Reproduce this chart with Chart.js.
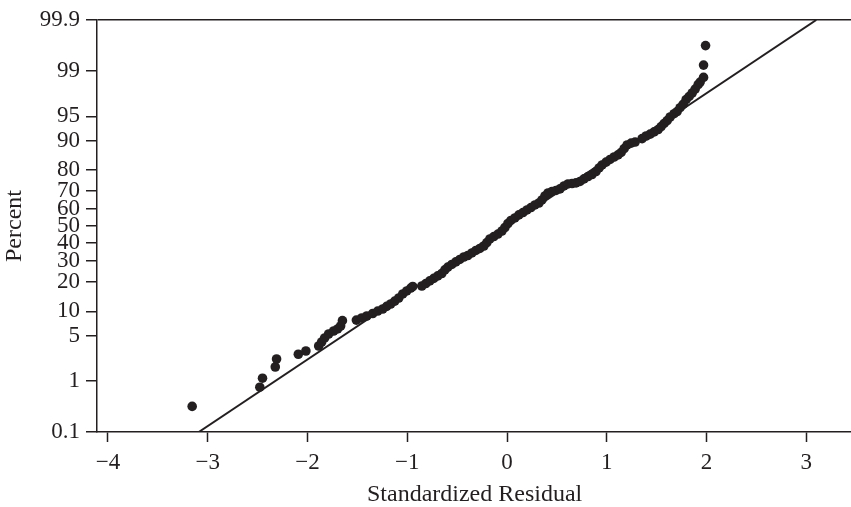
<!DOCTYPE html>
<html>
<head>
<meta charset="utf-8">
<script src="https://cdn.jsdelivr.net/npm/chart.js@4/dist/chart.umd.min.js"></script>
<style>
  html, body { margin: 0; padding: 0; background: #fff; overflow: hidden; }
  canvas { display: block; }
</style>
</head>
<body>
<!-- a few px wider than the page: chart.js keeps ~6px of right padding, this lets the frame run to the edge -->
<canvas id="probPlot" width="857" height="507"></canvas>
<script>
// standardized residuals (sorted) and their plotted percent
var residuals = [
  -3.156, -2.478, -2.451, -2.323, -2.310, -2.092, -2.016, -1.888, -1.858, -1.828,
  -1.788, -1.738, -1.698, -1.668, -1.650, -1.510, -1.457, -1.406, -1.346, -1.296,
  -1.246, -1.206, -1.166, -1.125, -1.085, -1.045, -1.005, -0.965, -0.945, -0.854,
  -0.814, -0.774, -0.734, -0.694, -0.654, -0.623, -0.593, -0.553, -0.513, -0.473,
  -0.433, -0.393, -0.352, -0.312, -0.272, -0.232, -0.202, -0.172, -0.132, -0.091,
  -0.051, -0.021, 0.009, 0.039, 0.079, 0.119, 0.160, 0.200, 0.240, 0.280,
  0.320, 0.350, 0.380, 0.411, 0.451, 0.491, 0.531, 0.571, 0.611, 0.652,
  0.692, 0.732, 0.772, 0.812, 0.852, 0.892, 0.923, 0.953, 0.993, 1.033,
  1.073, 1.113, 1.144, 1.174, 1.204, 1.244, 1.284, 1.354, 1.394, 1.435,
  1.475, 1.515, 1.545, 1.575, 1.605, 1.635, 1.675, 1.705, 1.735, 1.765,
  1.795, 1.826, 1.856, 1.886, 1.916, 1.936, 1.970, 1.970, 1.990
];
var percents = [
  0.34, 0.78, 1.12, 1.72, 2.30, 2.72, 3.04, 3.59, 4.09, 4.65,
  5.26, 5.76, 6.12, 6.68, 7.78, 7.9, 8.38, 8.85, 9.47, 10.1,
  10.65, 11.4, 12.1, 13.0, 14.0, 15.4, 16.5, 17.6, 18.2, 18.4,
  19.4, 20.5, 21.6, 22.7, 23.8, 25.5, 26.9, 28.2, 29.5, 30.8,
  32.1, 32.9, 34.3, 35.7, 36.8, 38.2, 40.2, 42.3, 43.7, 45.2,
  47.0, 49.1, 51.5, 53.3, 54.8, 56.6, 58.0, 59.5, 60.9, 62.4,
  63.5, 65.2, 67.4, 69.0, 69.8, 70.3, 71.1, 72.6, 73.6, 73.8,
  74.1, 74.8, 76.0, 77.1, 78.0, 79.3, 80.8, 82.0, 83.1, 84.1,
  84.97, 85.7, 86.5, 87.7, 88.8, 89.3, 89.6, 90.5, 91.15, 91.6,
  92.1, 92.6, 93.2, 93.8, 94.3, 94.9, 95.4, 95.7, 96.2, 96.6,
  97.1, 97.4, 97.7, 98.0, 98.3, 98.46, 98.71, 99.21, 99.66
];
// fitted normal line, end points
var fitX = [-3.09, 3.10];
var fitPct = [0.1, 99.9];

var xTicks = [-4, -3, -2, -1, 0, 1, 2, 3];
var pctTicks = [0.1, 1, 5, 10, 20, 30, 40, 50, 60, 70, 80, 90, 95, 99, 99.9];

var ink = "#231f20";
var serif = "'Liberation Serif', 'Times New Roman', serif";

// inverse normal cdf (Acklam)
function probit(p)
{
    var a = [-39.69683028665376, 220.9460984245205, -275.9285104469687, 138.3577518672690, -30.66479806614716, 2.506628277459239];
    var b = [-54.47609879822406, 161.5858368580409, -155.6989798598866, 66.80131188771972, -13.28068155288572];
    var c = [-0.007784894002430293, -0.3223964580411365, -2.400758277161838, -2.549732539343734, 4.374664141464968, 2.938163982698783];
    var d = [0.007784695709041462, 0.3224671290700398, 2.445134137142996, 3.754408661907416];
    var lo = 0.02425, q, r;
    if (p < lo) {
        q = Math.sqrt(-2 * Math.log(p));
        return (((((c[0]*q+c[1])*q+c[2])*q+c[3])*q+c[4])*q+c[5]) / ((((d[0]*q+d[1])*q+d[2])*q+d[3])*q+1);
    }
    if (p > 1 - lo) {
        q = Math.sqrt(-2 * Math.log(1 - p));
        return -(((((c[0]*q+c[1])*q+c[2])*q+c[3])*q+c[4])*q+c[5]) / ((((d[0]*q+d[1])*q+d[2])*q+d[3])*q+1);
    }
    q = p - 0.5;
    r = q * q;
    return (((((a[0]*r+a[1])*r+a[2])*r+a[3])*r+a[4])*r+a[5])*q / (((((b[0]*r+b[1])*r+b[2])*r+b[3])*r+b[4])*r+1);
}

// normal probability axis: values are percents, spaced by their z-score
class ProbitScale extends Chart.Scale {
    determineDataLimits() {
        this.min = probit(this.options.min / 100);
        this.max = probit(this.options.max / 100);
    }
    buildTicks() {
        return pctTicks.map(function(v) { return { value: v }; });
    }
    configure() {
        super.configure();
        this._startValue = this.min;
        this._valueRange = this.max - this.min;
    }
    getLabelForValue(v) { return String(v); }
    getPixelForValue(v) {
        return this.getPixelForDecimal((probit(v / 100) - this._startValue) / this._valueRange);
    }
    getPixelForTick(i) { return this.getPixelForValue(this.ticks[i].value); }
    getValueForPixel(px) { return this.getDecimalForPixel(px); }
    getBasePixel() { return this.getPixelForDecimal(0); }
}
ProbitScale.id = "probit";
ProbitScale.defaults = {};
Chart.register(ProbitScale);

function minus(v)
{
    return v < 0 ? "\u2212" + Math.abs(v) : String(v);
}

function ProbPlot()
{
    var pts = residuals.map(function(r, i) { return { x: r, y: percents[i] }; });
    var fit = fitX.map(function(r, i) { return { x: r, y: fitPct[i] }; });

    new Chart("probPlot", {
        type: "scatter",
        data: {
            datasets: [{
                data: fit,
                showLine: true,
                borderColor: ink,
                borderWidth: 2,
                pointRadius: 0
            }, {
                data: pts,
                backgroundColor: ink,
                borderWidth: 0,
                pointRadius: 4.8
            }]
        },
        options: {
            responsive: false,
            animation: false,
            events: [],
            layout: { padding: { top: 20, right: 0, left: 0, bottom: 0 } },
            plugins: { legend: { display: false }, tooltip: { enabled: false } },
            scales: {
                x: {
                    type: "linear",
                    min: -4.11,
                    max: 3.46,
                    afterBuildTicks: function(s) {
                        s.ticks = xTicks.map(function(v) { return { value: v }; });
                    },
                    afterFit: function(s) { s.height = 75; },
                    border: { color: ink, width: 1.5 },
                    grid: { drawOnChartArea: false, tickLength: 10, tickColor: ink, tickWidth: 1.5 },
                    ticks: {
                        color: ink,
                        padding: 7,
                        maxRotation: 0,
                        font: { family: serif, size: 23 },
                        callback: function(v) { return minus(v); }
                    },
                    title: {
                        display: true,
                        text: "Standardized Residual",
                        color: ink,
                        padding: 0,
                        font: { family: serif, size: 24, lineHeight: 1 }
                    }
                },
                y: {
                    type: "probit",
                    position: "left",
                    min: 0.1,
                    max: 99.9,
                    afterFit: function(s) { s.width = 97; },
                    border: { color: ink, width: 1.5 },
                    grid: {
                        tickLength: 11,
                        tickColor: ink,
                        tickWidth: 1.5,
                        lineWidth: 1.5,
                        // only the top edge of the frame
                        color: function(c) {
                            return c.tick && c.tick.value === 99.9 ? ink : "rgba(0,0,0,0)";
                        }
                    },
                    ticks: {
                        color: ink,
                        padding: 6,
                        autoSkip: false,
                        font: { family: serif, size: 23 },
                        callback: function(v) { return String(v); }
                    },
                    title: {
                        display: true,
                        text: "Percent",
                        color: ink,
                        padding: { top: 3, bottom: 0 },
                        font: { family: serif, size: 24, lineHeight: 1 }
                    }
                }
            }
        }
    });
}

ProbPlot();
</script>
</body>
</html>
